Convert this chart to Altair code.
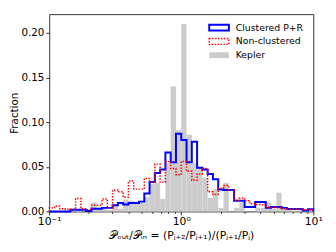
import altair as alt
import numpy as np
import pandas as pd

# ---- data ----
n_bins = 50
bin_edges = list(np.logspace(-1, 1, n_bins + 1))

clustered = [0.0, 0.0, 0.0, 0.0, 0.002, 0.002, 0.002, 0.0005, 0.003, 0.003,
             0.004, 0.004, 0.007, 0.0095, 0.0078, 0.0095, 0.0095, 0.011, 0.020, 0.033,
             0.043, 0.047, 0.066, 0.055, 0.087, 0.080, 0.055, 0.078, 0.049, 0.047,
             0.042, 0.036, 0.0245, 0.024, 0.024, 0.012, 0.012, 0.005, 0.005, 0.0105,
             0.0105, 0.004, 0.005, 0.005, 0.004, 0.0028, 0.0028, 0.0028, 0.001, 0.0024]

nonclustered = [0.004, 0.006, 0.003, 0.0025, 0.0025, 0.0145, 0.003, 0.002, 0.007, 0.007,
                0.014, 0.004, 0.024, 0.022, 0.016, 0.034, 0.025, 0.025, 0.037, 0.033,
                0.053, 0.033, 0.056, 0.048, 0.041, 0.056, 0.045, 0.035, 0.042, 0.048,
                0.022, 0.019, 0.026, 0.029, 0.024, 0.0125, 0.015, 0.012, 0.0085, 0.0078,
                0.0075, 0.005, 0.0045, 0.0045, 0.003, 0.0025, 0.0025, 0.0025, 0.002, 0.0015]

kepler = [0.0, 0.0, 0.0, 0.0, 0.0, 0.001, 0.0, 0.002, 0.010, 0.003,
          0.003, 0.002, 0.008, 0.003, 0.0135, 0.012, 0.011, 0.012, 0.016, 0.031,
          0.032, 0.014, 0.054, 0.140, 0.091, 0.210, 0.086, 0.054, 0.049, 0.038,
          0.015, 0.025, 0.004, 0.032, 0.0, 0.004, 0.010, 0.0, 0.0, 0.004,
          0.004, 0.010, 0.003, 0.021, 0.003, 0.002, 0.001, 0.001, 0.002, 0.001]

series_names = ["Clustered P+R", "Non-clustered", "Kepler"]
y_ticks = [0.0, 0.05, 0.10, 0.15, 0.20]
x_major = [0.1, 1.0, 10.0]
x_minor = [0.2, 0.3, 0.4, 0.5, 0.6, 0.7, 0.8, 0.9, 2, 3, 4, 5, 6, 7, 8, 9]
x_title = "𝒫ₒᵤₜ/𝒫ᵢₙ = (Pⱼ₊₂/Pⱼ₊₁)/(Pⱼ₊₁/Pⱼ)"

FONT = "DejaVu Sans"

bars_df = pd.DataFrame({"lo": bin_edges[:-1], "hi": bin_edges[1:], "frac": kepler})


def step_frame(vals):
    xs = [bin_edges[0]] + bin_edges[:-1] + [bin_edges[-1], bin_edges[-1]]
    ys = [0.0] + list(vals) + [vals[-1], 0.0]
    return pd.DataFrame({"x": xs, "y": ys, "k": list(range(len(xs)))})


xscale = alt.Scale(type="log", domain=[0.1, 10], nice=False)
yscale = alt.Scale(domain=[0, 0.221], nice=False, zero=True)

major_test = "abs(log(datum.value)/LN10 - round(log(datum.value)/LN10)) < 1e-6"

xaxis = alt.Axis(
    values=x_major + x_minor,
    labelExpr=f"({major_test}) ? (datum.value < 0.5 ? '10⁻¹' : (datum.value < 5 ? '10⁰' : '10¹')) : ''",
    tickSize={"condition": {"test": major_test, "value": 3.5}, "value": 2},
    title=x_title,
    grid=False,
    domain=False,
    labelFlush=False,
    labelOverlap=False,
    labelFontSize=11,
    labelPadding=1,
    titleFontSize=11,
    titlePadding=3,
)
yaxis = alt.Axis(
    values=y_ticks,
    format=".2f",
    title="Fraction",
    grid=False,
    domain=False,
    tickSize=3.5,
    labelFontSize=10.5,
    labelPadding=2,
    titleFontSize=10.5,
    titleX=-35,
    titleY=100.5,
    titleAngle=270,
    titleAlign="center",
    titleBaseline="middle",
)

bars = alt.Chart(bars_df).mark_rect(color="#cccccc").encode(
    x=alt.X("lo:Q", scale=xscale, axis=xaxis),
    x2="hi:Q",
    y=alt.Y("frac:Q", scale=yscale, axis=yaxis),
    y2=alt.datum(0),
)

blue = alt.Chart(step_frame(clustered)).mark_line(
    interpolate="step-after", color="#0000ff", strokeWidth=2
).encode(x=alt.X("x:Q", scale=xscale), y=alt.Y("y:Q", scale=yscale), order="k:Q")

red = alt.Chart(step_frame(nonclustered)).mark_line(
    interpolate="step-after", color="#ff0000", strokeWidth=1.5, strokeDash=[1.5, 1.5]
).encode(x=alt.X("x:Q", scale=xscale), y=alt.Y("y:Q", scale=yscale), order="k:Q")

# ---- legend (manual, upper right) ----
lx0, lx1, ltx = 163, 183, 190
rows = [13.7, 27.8, 41.8]
legend_layers = []
styles = [
    dict(filled=False, stroke="#0000ff", strokeWidth=2),
    dict(filled=False, stroke="#ff0000", strokeWidth=1.5, strokeDash=[1.5, 1.5]),
    dict(color="#cccccc"),
]
for name, yc, st in zip(series_names, rows, styles):
    d = pd.DataFrame({"label": [name]})
    legend_layers.append(
        alt.Chart(d).mark_rect(**st).encode(
            x=alt.value(lx0), x2=alt.value(lx1), y=alt.value(yc - 3), y2=alt.value(yc + 3)
        )
    )
    legend_layers.append(
        alt.Chart(d).mark_text(align="left", baseline="middle", font=FONT, fontSize=9.5, color="black").encode(
            x=alt.value(ltx), y=alt.value(yc), text="label:N"
        )
    )

chart = alt.layer(bars, blue, red, *legend_layers).properties(
    width=269, height=201,
    autosize=alt.AutoSizeParams(type="none"),
    padding={"left": 42, "top": 4, "right": 15, "bottom": 36},
).configure_view(stroke="#333333", strokeWidth=1).configure_axis(
    labelFont=FONT, titleFont=FONT, titleFontWeight="normal", labelColor="black",
    titleColor="black", tickColor="#333333",
)

chart.save("out.html", embed_options={"renderer": "svg", "actions": False})
